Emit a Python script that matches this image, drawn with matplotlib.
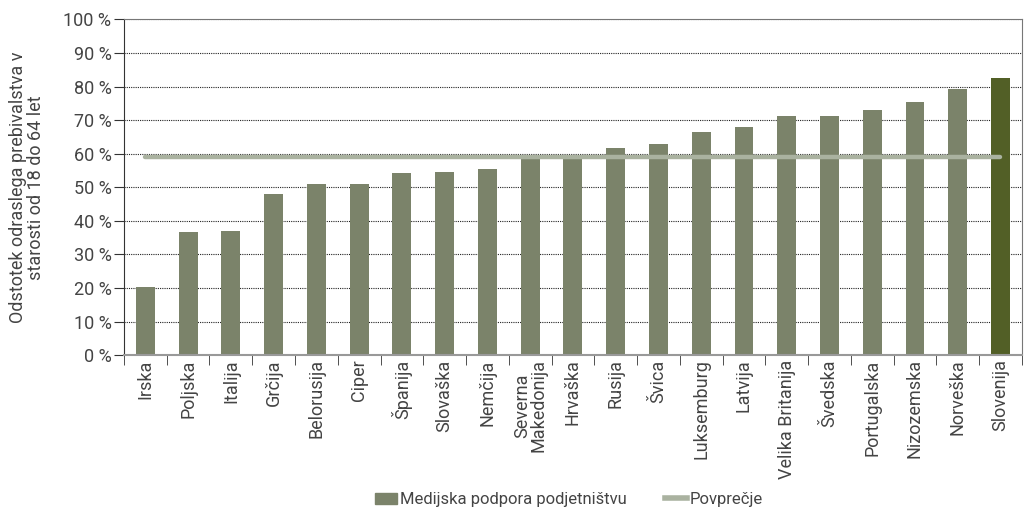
import numpy as np
import matplotlib
matplotlib.use("Agg")
import matplotlib.pyplot as plt
from matplotlib.patches import Patch
from matplotlib.lines import Line2D

plt.rcParams['font.family'] = ['Roboto', 'DejaVu Sans']
plt.rcParams['font.weight'] = 'normal'
plt.rcParams['text.color'] = '#444444'
plt.rcParams['xtick.labelcolor'] = '#444444'
plt.rcParams['ytick.labelcolor'] = '#444444'
plt.rcParams['axes.labelcolor'] = '#444444'

# data
countries = ["Irska", "Poljska", "Italija", "Grčija", "Belorusija", "Ciper",
             "Španija", "Slovaška", "Nemčija", "Severna\nMakedonija", "Hrvaška",
             "Rusija", "Švica", "Luksemburg", "Latvija", "Velika Britanija",
             "Švedska", "Portugalska", "Nizozemska", "Norveška", "Slovenija"]
values = [20.3, 36.7, 37.0, 48.0, 51.0, 51.0, 54.3, 54.6, 55.5, 58.5, 58.8,
          61.7, 62.9, 66.5, 68.0, 71.3, 71.3, 73.0, 75.4, 79.3, 82.6]
average = 58.9
highlight = "Slovenija"

bar_col = "#7b836a"
hi_col = "#525f26"
avg_col = "#aab2a0"

fig = plt.figure(figsize=(10.29, 5.11), dpi=100)
ax = fig.add_axes([0.1205, 0.305, 0.8725, 0.657])

x = np.arange(len(countries))
colors = [hi_col if c == highlight else bar_col for c in countries]
ax.bar(x, values, width=0.44, color=colors, zorder=2)
ax.plot([x[0], x[-1]], [average, average], color=avg_col, lw=3.2,
        solid_capstyle='round', zorder=3)

ax.set_xlim(-0.5, len(countries) - 0.5)
ax.set_ylim(0, 100)
ax.set_yticks(np.arange(0, 101, 10))
ax.set_yticklabels([f"{v} %" for v in range(0, 101, 10)], fontsize=13)
ax.yaxis.grid(True, linestyle=(0, (1, 1)), color="#222222", lw=0.8, zorder=1)
ax.set_axisbelow(True)

ax.set_xticks(x)
ax.set_xticklabels(countries, rotation=90, fontsize=13, va='top',
                   multialignment='center', linespacing=0.85)
ax.tick_params(axis='x', length=0, pad=3)
ax.set_xticks(np.arange(-0.5, len(countries), 1), minor=True)
ax.tick_params(axis='x', which='minor', length=7, color="#333333")
ax.tick_params(axis='y', length=7, color="#333333", pad=2)

for s in ['top', 'right']:
    ax.spines[s].set_color("#777777")
ax.spines['left'].set_color("#333333")
ax.spines['bottom'].set_color("#999999")
ax.spines['bottom'].set_linewidth(1.5)

ax.set_ylabel("Odstotek odraslega prebivalstva v\nstarosti od 18 do 64 let",
              fontsize=13, linespacing=1.0, labelpad=13)

handles = [Patch(color=bar_col, label="Medijska podpora podjetništvu"),
           Line2D([0], [0], color=avg_col, lw=4, label="Povprečje")]
fig.legend(handles=handles, loc='lower center', bbox_to_anchor=(0.553, -0.022),
           ncol=2, frameon=False, fontsize=12, handlelength=1.3,
           handletextpad=0.2, columnspacing=2.3)

fig.savefig("out.png", dpi=100)
